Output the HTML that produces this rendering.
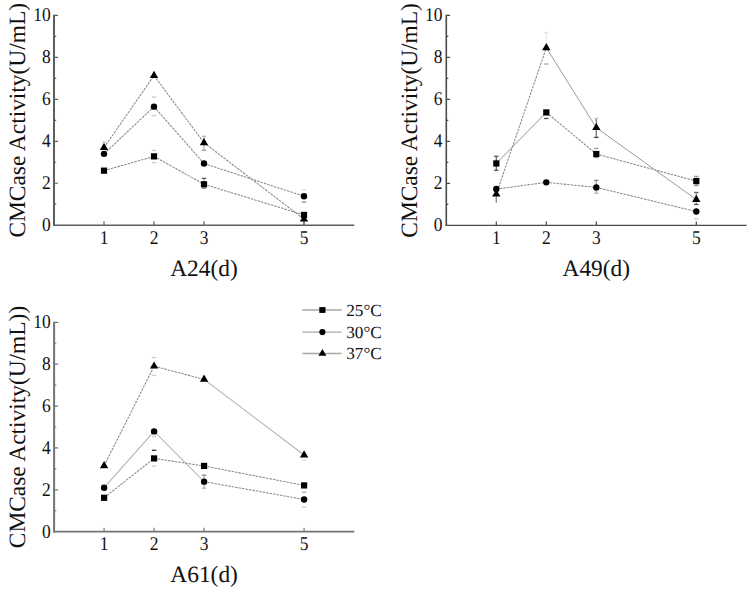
<!DOCTYPE html>
<html><head><meta charset="utf-8"><style>
html,body{margin:0;padding:0;background:#fff;}
svg{display:block;text-rendering:geometricPrecision;}
.t{font-family:"Liberation Serif",serif;font-size:18px;fill:#111;}
.a{font-family:"Liberation Serif",serif;font-size:23.4px;fill:#111;}
.l{font-family:"Liberation Serif",serif;font-size:17px;fill:#111;}
</style></head><body>
<svg width="749" height="591" viewBox="0 0 749 591">
<rect width="749" height="591" fill="#fff"/>
<g><path d="M204 136.3V150.3" stroke="#b0b0b0" stroke-width="1.3" fill="none"/><path d="M204 178.4V188.3" stroke="#aaa" stroke-width="1.3" fill="none"/><path d="M304 218V225" stroke="#999" stroke-width="1.3" fill="none"/><path d="M101.8 141.9h4.4" stroke="#ccc" stroke-width="1.3" fill="none"/><path d="M151.8 150.4h4.4" stroke="#ccc" stroke-width="1.3" fill="none"/><path d="M151.8 162.6h4.4" stroke="#ccc" stroke-width="1.3" fill="none"/><path d="M151.8 97.1h4.4" stroke="#c8c8c8" stroke-width="1.3" fill="none"/><path d="M151.8 115.7h4.4" stroke="#ccc" stroke-width="1.3" fill="none"/><path d="M201.8 136.3h4.4" stroke="#bbb" stroke-width="1.3" fill="none"/><path d="M201.8 150.3h4.4" stroke="#999" stroke-width="1.3" fill="none"/><path d="M201.8 178.4h4.4" stroke="#555" stroke-width="1.3" fill="none"/><path d="M201.8 188.3h4.4" stroke="#888" stroke-width="1.3" fill="none"/><path d="M301.8 189.6h4.4" stroke="#ddd" stroke-width="1.3" fill="none"/><path d="M301.8 202.1h4.4" stroke="#888" stroke-width="1.3" fill="none"/><path d="M104 170.65L154 156.39" fill="none" stroke="#8a8a8a" stroke-width="1.05" stroke-dasharray="2.5 1"/><path d="M154 156.39L204 184.29" fill="none" stroke="#8a8a8a" stroke-width="1.05" stroke-dasharray="2.5 1"/><path d="M204 184.29L304 214.92" fill="none" stroke="#8a8a8a" stroke-width="1.05" stroke-dasharray="2.5 1"/><path d="M104 153.87L154 106.66" fill="none" stroke="#8a8a8a" stroke-width="1.05" stroke-dasharray="2.5 1"/><path d="M154 106.66L204 163.52" fill="none" stroke="#8a8a8a" stroke-width="1.05" stroke-dasharray="2.5 1"/><path d="M204 163.52L304 196.25" fill="none" stroke="#8a8a8a" stroke-width="1.05" stroke-dasharray="2.5 1"/><path d="M104 147.57L154 75.61" fill="none" stroke="#8a8a8a" stroke-width="1.05" stroke-dasharray="2.5 1"/><path d="M154 75.61L204 142.75" fill="none" stroke="#8a8a8a" stroke-width="1.05" stroke-dasharray="2.5 1"/><path d="M204 142.75L304 219.2" fill="none" stroke="#8a8a8a" stroke-width="1.05" stroke-dasharray="2.5 1"/><path d="M54 14.8V225.95" fill="none" stroke="#5e5e5e" stroke-width="2.0"/><path d="M53 225.2H354.3" fill="none" stroke="#5e5e5e" stroke-width="1.5"/><path d="M54 204.22h2.2M54 183.24h4.0M54 162.26h2.2M54 141.28h4.0M54 120.3h2.2M54 99.32h4.0M54 78.34h2.2M54 57.36h4.0M54 36.38h2.2M54 15.4h4.0M104 225.2v-4M154 225.2v-4M204 225.2v-4M304 225.2v-4" stroke="#5e5e5e" stroke-width="1.2" fill="none"/><rect x="100.9" y="167.55" width="6.2" height="6.2" fill="#000"/><rect x="150.9" y="153.29" width="6.2" height="6.2" fill="#000"/><rect x="200.9" y="181.19" width="6.2" height="6.2" fill="#000"/><rect x="300.9" y="211.82" width="6.2" height="6.2" fill="#000"/><circle cx="104" cy="153.87" r="3.2" fill="#000"/><circle cx="154" cy="106.66" r="3.2" fill="#000"/><circle cx="204" cy="163.52" r="3.2" fill="#000"/><circle cx="304" cy="196.25" r="3.2" fill="#000"/><path d="M104 142.77L108.2 149.97H99.8Z" fill="#000"/><path d="M154 70.81L158.2 78.01H149.8Z" fill="#000"/><path d="M204 137.95L208.2 145.15H199.8Z" fill="#000"/><path d="M304 214.4L308.2 221.6H299.8Z" fill="#000"/><text transform="translate(50.7 231.1) scale(0.97 1.08)" text-anchor="end" class="t">0</text><text transform="translate(50.7 189.14) scale(0.97 1.08)" text-anchor="end" class="t">2</text><text transform="translate(50.7 147.18) scale(0.97 1.08)" text-anchor="end" class="t">4</text><text transform="translate(50.7 105.22) scale(0.97 1.08)" text-anchor="end" class="t">6</text><text transform="translate(50.7 63.26) scale(0.97 1.08)" text-anchor="end" class="t">8</text><text transform="translate(50.7 21.3) scale(0.97 1.08)" text-anchor="end" class="t">10</text><text transform="translate(104 243.6) scale(0.97 1.08)" text-anchor="middle" class="t">1</text><text transform="translate(154 243.6) scale(0.97 1.08)" text-anchor="middle" class="t">2</text><text transform="translate(204 243.6) scale(0.97 1.08)" text-anchor="middle" class="t">3</text><text transform="translate(304 243.6) scale(0.97 1.08)" text-anchor="middle" class="t">5</text><text x="204" y="275.7" text-anchor="middle" class="a">A24(d)</text><text transform="translate(25 120.3) rotate(-90)" x="0" y="0" text-anchor="middle" class="a">CMCase Activity(U/mL)</text></g><g><path d="M496.3 156.3V170.3" stroke="#666" stroke-width="1.3" fill="none"/><path d="M496.3 196V202.7" stroke="#888" stroke-width="1.3" fill="none"/><path d="M546.3 32.6V45" stroke="#eee" stroke-width="1.3" fill="none"/><path d="M596.3 118.4V137.4" stroke="#777" stroke-width="1.3" fill="none"/><path d="M596.3 180.3V193.4" stroke="#999" stroke-width="1.3" fill="none"/><path d="M696.3 176.4V185.5" stroke="#bbb" stroke-width="1.3" fill="none"/><path d="M696.3 192.5V204.5" stroke="#999" stroke-width="1.3" fill="none"/><path d="M494.1 156.3h4.4" stroke="#555" stroke-width="1.3" fill="none"/><path d="M494.1 170.3h4.4" stroke="#555" stroke-width="1.3" fill="none"/><path d="M544.1 32.6h4.4" stroke="#e5e5e5" stroke-width="1.3" fill="none"/><path d="M544.1 64h4.4" stroke="#aaa" stroke-width="1.3" fill="none"/><path d="M544.1 105.4h4.4" stroke="#eee" stroke-width="1.3" fill="none"/><path d="M544.1 118.5h4.4" stroke="#444" stroke-width="1.3" fill="none"/><path d="M594.1 118.4h4.4" stroke="#ccc" stroke-width="1.3" fill="none"/><path d="M594.1 137.4h4.4" stroke="#444" stroke-width="1.3" fill="none"/><path d="M594.1 148.4h4.4" stroke="#999" stroke-width="1.3" fill="none"/><path d="M594.1 157.5h4.4" stroke="#999" stroke-width="1.3" fill="none"/><path d="M594.1 180.3h4.4" stroke="#888" stroke-width="1.3" fill="none"/><path d="M594.1 193.4h4.4" stroke="#bbb" stroke-width="1.3" fill="none"/><path d="M694.1 176.4h4.4" stroke="#999" stroke-width="1.3" fill="none"/><path d="M694.1 185.5h4.4" stroke="#888" stroke-width="1.3" fill="none"/><path d="M694.1 192.5h4.4" stroke="#666" stroke-width="1.3" fill="none"/><path d="M694.1 204.5h4.4" stroke="#555" stroke-width="1.3" fill="none"/><path d="M694.1 218.8h4.4" stroke="#ccc" stroke-width="1.3" fill="none"/><path d="M496.3 163.45L546.3 112.42" fill="none" stroke="#b4b4b4" stroke-width="1.1"/><path d="M546.3 112.42L596.3 154" fill="none" stroke="#8a8a8a" stroke-width="1.05" stroke-dasharray="2.5 1"/><path d="M596.3 154L696.3 181.09" fill="none" stroke="#8a8a8a" stroke-width="1.05" stroke-dasharray="2.5 1"/><path d="M496.3 189.07L546.3 182.35" fill="none" stroke="#8a8a8a" stroke-width="1.05" stroke-dasharray="2.5 1"/><path d="M546.3 182.35L596.3 187.39" fill="none" stroke="#8a8a8a" stroke-width="1.05" stroke-dasharray="2.5 1"/><path d="M596.3 187.39L696.3 211.54" fill="none" stroke="#8a8a8a" stroke-width="1.05" stroke-dasharray="2.5 1"/><path d="M496.3 194.19L546.3 47.8" fill="none" stroke="#8a8a8a" stroke-width="1.05" stroke-dasharray="2.5 1"/><path d="M546.3 47.8L596.3 127.71" fill="none" stroke="#9a9a9a" stroke-width="1"/><path d="M596.3 127.71L696.3 199.59" fill="none" stroke="#9a9a9a" stroke-width="1"/><path d="M446.3 14.8V226.1" fill="none" stroke="#4a4a4a" stroke-width="1.6"/><path d="M445.5 225.4H746.6" fill="none" stroke="#4a4a4a" stroke-width="1.4"/><path d="M446.3 204.4h2.0M446.3 183.4h3.8M446.3 162.4h2.0M446.3 141.4h3.8M446.3 120.4h2.0M446.3 99.4h3.8M446.3 78.4h2.0M446.3 57.4h3.8M446.3 36.4h2.0M446.3 15.4h3.8M496.3 225.4v-4M546.3 225.4v-4M596.3 225.4v-4M696.3 225.4v-4" stroke="#4a4a4a" stroke-width="1.2" fill="none"/><rect x="493.2" y="160.35" width="6.2" height="6.2" fill="#000"/><rect x="543.2" y="109.32" width="6.2" height="6.2" fill="#000"/><rect x="593.2" y="150.9" width="6.2" height="6.2" fill="#000"/><rect x="693.2" y="177.99" width="6.2" height="6.2" fill="#000"/><circle cx="496.3" cy="189.07" r="3.2" fill="#000"/><circle cx="546.3" cy="182.35" r="3.2" fill="#000"/><circle cx="596.3" cy="187.39" r="3.2" fill="#000"/><circle cx="696.3" cy="211.54" r="3.2" fill="#000"/><path d="M496.3 189.39L500.5 196.59H492.1Z" fill="#000"/><path d="M546.3 43L550.5 50.2H542.1Z" fill="#000"/><path d="M596.3 122.91L600.5 130.11H592.1Z" fill="#000"/><path d="M696.3 194.79L700.5 201.99H692.1Z" fill="#000"/><text transform="translate(442.5 231.3) scale(0.97 1.08)" text-anchor="end" class="t">0</text><text transform="translate(442.5 189.3) scale(0.97 1.08)" text-anchor="end" class="t">2</text><text transform="translate(442.5 147.3) scale(0.97 1.08)" text-anchor="end" class="t">4</text><text transform="translate(442.5 105.3) scale(0.97 1.08)" text-anchor="end" class="t">6</text><text transform="translate(442.5 63.3) scale(0.97 1.08)" text-anchor="end" class="t">8</text><text transform="translate(442.5 21.3) scale(0.97 1.08)" text-anchor="end" class="t">10</text><text transform="translate(496.3 243.8) scale(0.97 1.08)" text-anchor="middle" class="t">1</text><text transform="translate(546.3 243.8) scale(0.97 1.08)" text-anchor="middle" class="t">2</text><text transform="translate(596.3 243.8) scale(0.97 1.08)" text-anchor="middle" class="t">3</text><text transform="translate(696.3 243.8) scale(0.97 1.08)" text-anchor="middle" class="t">5</text><text x="596.3" y="275.9" text-anchor="middle" class="a">A49(d)</text><text transform="translate(417.3 120.4) rotate(-90)" x="0" y="0" text-anchor="middle" class="a">CMCase Activity(U/mL)</text></g><g><path d="M204.1 475.2V488.2" stroke="#aaa" stroke-width="1.3" fill="none"/><path d="M151.9 357.6h4.4" stroke="#ccc" stroke-width="1.3" fill="none"/><path d="M151.9 375.4h4.4" stroke="#ccc" stroke-width="1.3" fill="none"/><path d="M151.9 436.5h4.4" stroke="#ccc" stroke-width="1.3" fill="none"/><path d="M151.9 450.3h4.4" stroke="#333" stroke-width="1.3" fill="none"/><path d="M151.9 466.1h4.4" stroke="#ccc" stroke-width="1.3" fill="none"/><path d="M201.9 475.2h4.4" stroke="#888" stroke-width="1.3" fill="none"/><path d="M201.9 488.2h4.4" stroke="#bbb" stroke-width="1.3" fill="none"/><path d="M301.9 459.8h4.4" stroke="#ddd" stroke-width="1.3" fill="none"/><path d="M301.9 492.3h4.4" stroke="#aaa" stroke-width="1.3" fill="none"/><path d="M301.9 507.1h4.4" stroke="#ccc" stroke-width="1.3" fill="none"/><path d="M104.1 497.78L154.1 458.41" fill="none" stroke="#8a8a8a" stroke-width="1.05" stroke-dasharray="2.5 1"/><path d="M154.1 458.41L204.1 465.95" fill="none" stroke="#8a8a8a" stroke-width="1.05" stroke-dasharray="2.5 1"/><path d="M204.1 465.95L304.1 485.42" fill="none" stroke="#8a8a8a" stroke-width="1.05" stroke-dasharray="2.5 1"/><path d="M104.1 487.73L154.1 431.4" fill="none" stroke="#b4b4b4" stroke-width="1.1"/><path d="M154.1 431.4L204.1 481.65" fill="none" stroke="#9a9a9a" stroke-width="1"/><path d="M204.1 481.65L304.1 499.45" fill="none" stroke="#8a8a8a" stroke-width="1.05" stroke-dasharray="2.5 1"/><path d="M104.1 465.8L154.1 366.19" fill="none" stroke="#8a8a8a" stroke-width="1.05" stroke-dasharray="2.5 1"/><path d="M154.1 366.19L204.1 379.4" fill="none" stroke="#8a8a8a" stroke-width="1.05" stroke-dasharray="2.5 1"/><path d="M204.1 379.4L304.1 455" fill="none" stroke="#b4b4b4" stroke-width="1.1"/><path d="M54.1 321.7V532.6" fill="none" stroke="#747474" stroke-width="2.0"/><path d="M53.1 531.7H354.4" fill="none" stroke="#747474" stroke-width="1.8"/><path d="M54.1 510.76h2.2M54.1 489.82h4.0M54.1 468.88h2.2M54.1 447.94h4.0M54.1 427h2.2M54.1 406.06h4.0M54.1 385.12h2.2M54.1 364.18h4.0M54.1 343.24h2.2M54.1 322.3h4.0M104.1 531.7v-4M154.1 531.7v-4M204.1 531.7v-4M304.1 531.7v-4" stroke="#747474" stroke-width="1.2" fill="none"/><rect x="101" y="494.68" width="6.2" height="6.2" fill="#000"/><rect x="151" y="455.31" width="6.2" height="6.2" fill="#000"/><rect x="201" y="462.85" width="6.2" height="6.2" fill="#000"/><rect x="301" y="482.32" width="6.2" height="6.2" fill="#000"/><circle cx="104.1" cy="487.73" r="3.2" fill="#000"/><circle cx="154.1" cy="431.4" r="3.2" fill="#000"/><circle cx="204.1" cy="481.65" r="3.2" fill="#000"/><circle cx="304.1" cy="499.45" r="3.2" fill="#000"/><path d="M104.1 461L108.3 468.2H99.9Z" fill="#000"/><path d="M154.1 361.39L158.3 368.59H149.9Z" fill="#000"/><path d="M204.1 374.6L208.3 381.8H199.9Z" fill="#000"/><path d="M304.1 450.2L308.3 457.4H299.9Z" fill="#000"/><text transform="translate(50.8 537.6) scale(0.97 1.08)" text-anchor="end" class="t">0</text><text transform="translate(50.8 495.72) scale(0.97 1.08)" text-anchor="end" class="t">2</text><text transform="translate(50.8 453.84) scale(0.97 1.08)" text-anchor="end" class="t">4</text><text transform="translate(50.8 411.96) scale(0.97 1.08)" text-anchor="end" class="t">6</text><text transform="translate(50.8 370.08) scale(0.97 1.08)" text-anchor="end" class="t">8</text><text transform="translate(50.8 328.2) scale(0.97 1.08)" text-anchor="end" class="t">10</text><text transform="translate(104.1 550.1) scale(0.97 1.08)" text-anchor="middle" class="t">1</text><text transform="translate(154.1 550.1) scale(0.97 1.08)" text-anchor="middle" class="t">2</text><text transform="translate(204.1 550.1) scale(0.97 1.08)" text-anchor="middle" class="t">3</text><text transform="translate(304.1 550.1) scale(0.97 1.08)" text-anchor="middle" class="t">5</text><text x="204.1" y="582.2" text-anchor="middle" class="a">A61(d)</text><text transform="translate(25.1 427) rotate(-90)" x="0" y="0" text-anchor="middle" class="a">CMCase Activity(U/mL))</text></g><g><path d="M302.3 310H341.7" stroke="#a8a8a8" stroke-width="1.3"/><rect x="319.3" y="307.1" width="6.2" height="5.8" fill="#000"/><text x="346.2" y="315.6" class="l" textLength="35.6" lengthAdjust="spacingAndGlyphs">25°C</text><path d="M302.3 332.1H341.7" stroke="#a8a8a8" stroke-width="1.3"/><circle cx="322.4" cy="332.1" r="3.1" fill="#000"/><text x="346.2" y="337.7" class="l" textLength="35.6" lengthAdjust="spacingAndGlyphs">30°C</text><path d="M302.3 353.5H341.7" stroke="#a8a8a8" stroke-width="1.3"/><path d="M322.4 349.1L326.4 355.8H318.4Z" fill="#000"/><text x="346.2" y="359.1" class="l" textLength="35.6" lengthAdjust="spacingAndGlyphs">37°C</text></g>
</svg>
</body></html>
